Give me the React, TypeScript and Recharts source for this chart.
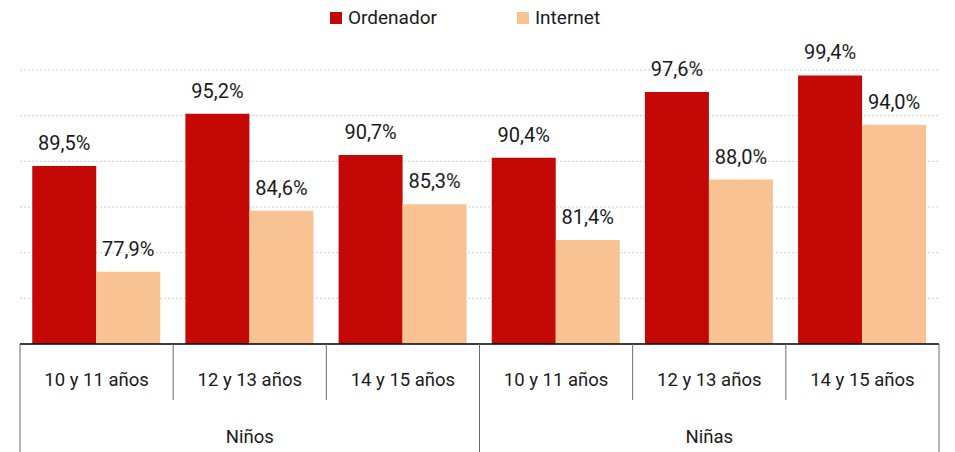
import { BarChart, Bar, XAxis, YAxis, CartesianGrid, LabelList } from "recharts";

const groups = ["Niños", "Niñas"];
const ages = ["10 y 11 años", "12 y 13 años", "14 y 15 años"];
const ordenador = [89.5, 95.2, 90.7, 90.4, 97.6, 99.4];
const internet = [77.9, 84.6, 85.3, 81.4, 88.0, 94.0];
const yTicks = [70, 75, 80, 85, 90, 95, 100];

const RED = "#C30805";
const PEACH = "#F9C292";
const FONT = "Roboto, 'Liberation Sans', sans-serif";

const data = groups.flatMap((g, gi) =>
  ages.map((a, ai) => ({
    key: `${g}|${a}`,
    group: g,
    age: a,
    ordenador: ordenador[gi * ages.length + ai],
    internet: internet[gi * ages.length + ai],
  }))
);

const fmt = (v: any) => `${Number(v).toFixed(1).replace(".", ",")}%`;

function CategoryTick(props: any) {
  const { x, y, payload, width, visibleTicksCount } = props;
  const i = payload.index;
  const row = data[i];
  const bw = width / visibleTicksCount;
  const first = i % ages.length === 0;
  const last = i === data.length - 1;
  const middle = i % ages.length === 1;
  return (
    <g>
      <line x1={x - bw / 2} x2={x - bw / 2} y1={y} y2={y + (first ? 110 : 56)} stroke="#6b6b6b" />
      {last && <line x1={x + bw / 2} x2={x + bw / 2} y1={y} y2={y + 110} stroke="#6b6b6b" />}
      <text x={x} y={y + 42} textAnchor="middle" fontSize={18.5} fill="#1a1a1a" fontFamily={FONT}>
        {row.age}
      </text>
      {middle && (
        <text x={x} y={y + 99} textAnchor="middle" fontSize={18.5} fill="#1a1a1a" fontFamily={FONT}>
          {row.group}
        </text>
      )}
    </g>
  );
}

export default function App() {
  return (
    <div style={{ position: "absolute", left: 0, top: 0, width: 955, height: 452, background: "#fff", fontFamily: FONT }}>
      <div
        style={{
          position: "absolute",
          top: 6,
          left: 330,
          display: "flex",
          alignItems: "center",
          fontSize: 19,
          color: "#1a1a1a",
        }}
      >
        <span style={{ width: 12, height: 12, background: RED, display: "inline-block", marginRight: 6 }} />
        <span style={{ marginRight: 80 }}>Ordenador</span>
        <span style={{ width: 12, height: 12, background: PEACH, display: "inline-block", marginRight: 6 }} />
        <span>Internet</span>
      </div>
      <BarChart
        width={955}
        height={452}
        data={data}
        margin={{ top: 70, right: 16, bottom: 0, left: 20 }}
        barCategoryGap="8%"
        barGap={0}
      >
        <CartesianGrid vertical={false} stroke="#cfcfcf" strokeDasharray="2 2" />
        <YAxis hide domain={[70, 100]} ticks={yTicks} />
        <XAxis
          dataKey="key"
          axisLine={{ stroke: "#000", strokeWidth: 1.5 }}
          tickLine={false}
          tickSize={0}
          tickMargin={0}
          interval={0}
          height={108}
          tick={<CategoryTick />}
        />
        <Bar dataKey="ordenador" fill={RED} isAnimationActive={false}>
          <LabelList dataKey="ordenador" position="top" offset={16} formatter={fmt} fontSize={20} fill="#1a1a1a" fontFamily={FONT} />
        </Bar>
        <Bar dataKey="internet" fill={PEACH} isAnimationActive={false}>
          <LabelList dataKey="internet" position="top" offset={16} formatter={fmt} fontSize={20} fill="#1a1a1a" fontFamily={FONT} />
        </Bar>
      </BarChart>
    </div>
  );
}
